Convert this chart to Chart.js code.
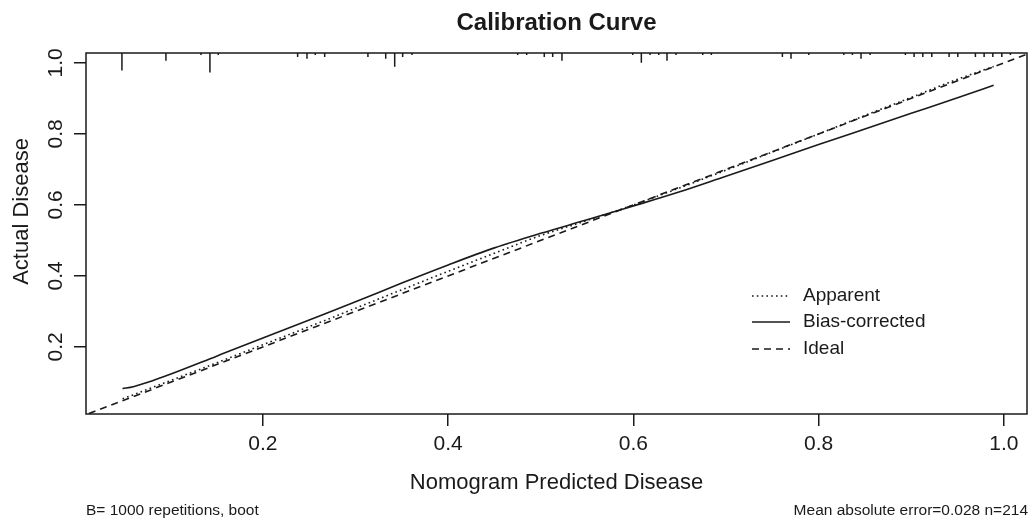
<!DOCTYPE html>
<html><head><meta charset="utf-8">
<script src="https://cdn.jsdelivr.net/npm/chart.js@4.4.1/dist/chart.umd.min.js"></script>
<style>html,body{margin:0;padding:0;background:#fff;overflow:hidden}canvas{display:block}</style>
</head><body>
<canvas id="c" width="1028" height="521"></canvas>
<script>
// ---- text ----
const chartTitle = 'Calibration Curve';
const xTitle = 'Nomogram Predicted Disease';
const yTitle = 'Actual Disease';
const footLeft = 'B= 1000 repetitions, boot';
const footRight = 'Mean absolute error=0.028 n=214';
const seriesNames = ['Apparent', 'Bias-corrected', 'Ideal'];

// ---- ticks ----
const xTicks = [0.2, 0.4, 0.6, 0.8, 1.0];
const yTicks = [0.2, 0.4, 0.6, 0.8, 1.0];

// ---- calibration curves ----
const predicted     = [0.0485, 0.06, 0.08, 0.10, 0.15, 0.20, 0.25, 0.30, 0.35, 0.40, 0.45, 0.50, 0.55, 0.60, 0.65, 0.70, 0.75, 0.80, 0.85, 0.90, 0.95, 0.989];
const apparent      = [0.054, 0.065, 0.085, 0.105, 0.155, 0.206, 0.257, 0.309, 0.361, 0.413, 0.464, 0.514, 0.556, 0.600, 0.648, 0.698, 0.749, 0.800, 0.852, 0.903, 0.954, 0.990];
const biasCorrected = [0.0825, 0.088, 0.104, 0.123, 0.174, 0.225, 0.276, 0.327, 0.380, 0.431, 0.479, 0.520, 0.558, 0.597, 0.637, 0.681, 0.725, 0.770, 0.814, 0.858, 0.902, 0.937];
const idealX = [0, 1.1];
const idealY = [0, 1.1];

// ---- rug of predicted values (top) ----
const rugX = [0.0478, 0.0953, 0.1331, 0.1428, 0.1518, 0.2375, 0.2476, 0.2565, 0.2667, 0.3134, 0.3326, 0.3423, 0.3509, 0.3610,
              0.4751, 0.4848, 0.5038, 0.5129, 0.5229, 0.5993, 0.6086, 0.6180, 0.6274, 0.6363, 0.6460, 0.6749, 0.6842,
              0.7609, 0.7702, 0.7894, 0.8272, 0.8365, 0.8458, 0.8556, 0.8937, 0.9031, 0.9125, 0.9222, 0.9409, 0.9503,
              0.9693, 0.9787, 0.9881, 0.9978, 1.0071];
const rugCounts = [9, 4, 1, 10, 1, 2, 3, 1, 2, 2, 3, 7, 2, 1,
                   1, 1, 2, 2, 4, 1, 5, 1, 1, 4, 1, 1, 1,
                   2, 3, 1, 1, 1, 3, 1, 1, 2, 2, 2, 2, 2,
                   2, 2, 2, 2, 1];

// ---- axis limits / styling ----
const X_MIN = 0.009, X_MAX = 1.025, Y_MIN = 0.011, Y_MAX = 1.028;
const RUG_UNIT = 0.0055;
const FONT = '"Liberation Sans", Arial, Helvetica, sans-serif';
const INK = '#1a1a1a';
Chart.defaults.font.family = FONT;
Chart.defaults.color = INK;

const toPts = (xs, ys) => xs.map((x, i) => ({x: x, y: ys[i]}));
const rugData = [];
rugX.forEach((x, i) => {
  rugData.push({x: x, y: Y_MAX});
  rugData.push({x: x, y: Y_MAX - rugCounts[i] * RUG_UNIT});
  rugData.push({x: x, y: null});
});

const fixTicks = arr => s => { s.ticks = arr.map(v => ({value: v})); };

const decor = {
  id: 'decor',
  afterDraw(chart) {
    const {ctx, chartArea: a, scales: {y}} = chart;
    ctx.save();
    // plot box
    ctx.strokeStyle = INK; ctx.lineWidth = 1.5;
    ctx.strokeRect(a.left, a.top, a.right - a.left, a.bottom - a.top);
    // rotated y tick labels
    ctx.fillStyle = INK;
    ctx.font = '21px ' + FONT;
    ctx.textAlign = 'center'; ctx.textBaseline = 'middle';
    y.ticks.forEach(t => {
      const py = y.getPixelForValue(t.value);
      ctx.save(); ctx.translate(a.left - 30, py); ctx.rotate(-Math.PI / 2);
      ctx.fillText(Number(t.value).toFixed(1), 0, 0); ctx.restore();
    });
    // y title
    ctx.font = '22px ' + FONT;
    ctx.save(); ctx.translate(22, (a.top + a.bottom) / 2 - 22); ctx.rotate(-Math.PI / 2);
    ctx.fillText(yTitle, 0, 0); ctx.restore();
    // legend
    ctx.font = '19px ' + FONT;
    ctx.textAlign = 'left';
    const rows = [296, 322, 349];
    chart.data.datasets.slice(0, 3).forEach((ds, i) => {
      ctx.save();
      ctx.strokeStyle = ds.borderColor; ctx.lineWidth = ds.borderWidth;
      ctx.setLineDash(ds.borderDash || []);
      ctx.beginPath(); ctx.moveTo(752, rows[i]); ctx.lineTo(790, rows[i]); ctx.stroke();
      ctx.restore();
      ctx.fillText(ds.label, 803, rows[i]);
    });
    // footers
    ctx.font = '15.5px ' + FONT;
    ctx.textAlign = 'left';
    ctx.fillText(footLeft, a.left, 511);
    ctx.textAlign = 'right';
    ctx.fillText(footRight, chart.width, 511);
    ctx.restore();
  }
};

new Chart(document.getElementById('c'), {
  type: 'scatter',
  data: {
    datasets: [
      {label: seriesNames[0], data: toPts(predicted, apparent), showLine: true, borderColor: INK, borderWidth: 1.6,
       borderDash: [1.6, 3.2], pointRadius: 0, cubicInterpolationMode: 'monotone'},
      {label: seriesNames[1], data: toPts(predicted, biasCorrected), showLine: true, borderColor: INK, borderWidth: 1.6,
       pointRadius: 0, cubicInterpolationMode: 'monotone'},
      {label: seriesNames[2], data: toPts(idealX, idealY), showLine: true, borderColor: INK, borderWidth: 1.6,
       borderDash: [7, 5], pointRadius: 0},
      {label: 'rug', data: rugData, showLine: true, spanGaps: false, borderColor: INK, borderWidth: 1.5, pointRadius: 0}
    ]
  },
  options: {
    responsive: false, devicePixelRatio: 1, animation: false,
    layout: {padding: {left: 0, right: 1, top: 0, bottom: 0}},
    plugins: {
      legend: {display: false}, tooltip: {enabled: false},
      title: {display: true, text: chartTitle, fullSize: false, color: INK,
              font: {size: 24, weight: 'bold'}, padding: {top: 9, bottom: 15.2}}
    },
    scales: {
      x: {
        type: 'linear', min: X_MIN, max: X_MAX,
        afterBuildTicks: fixTicks(xTicks),
        afterFit: s => { s.height = 107; },
        ticks: {font: {size: 21}, color: INK, padding: 6, maxRotation: 0, autoSkip: false,
                callback: v => Number(v).toFixed(1)},
        grid: {drawOnChartArea: false, drawTicks: true, tickLength: 12, color: INK, lineWidth: 1.5},
        border: {display: false},
        title: {display: true, text: xTitle, font: {size: 22}, color: INK, padding: {top: 0, bottom: 24.8}}
      },
      y: {
        type: 'linear', min: Y_MIN, max: Y_MAX,
        afterBuildTicks: fixTicks(yTicks),
        afterFit: s => { s.width = 86; },
        ticks: {display: false},
        grid: {drawOnChartArea: false, drawTicks: true, tickLength: 12, color: INK, lineWidth: 1.5},
        border: {display: false}
      }
    }
  },
  plugins: [decor]
});
</script>
</body></html>
